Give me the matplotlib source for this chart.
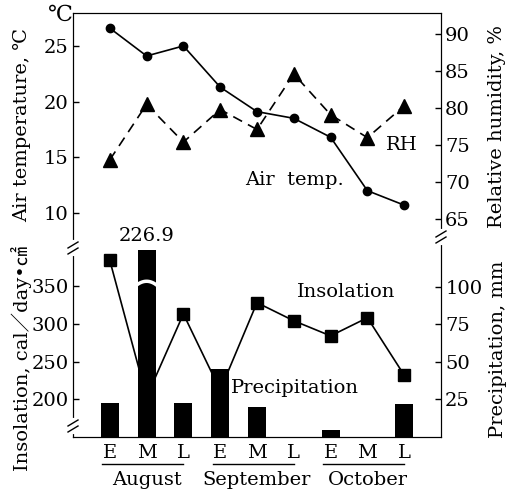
import numpy as np
import matplotlib
matplotlib.use('Agg')
import matplotlib.pyplot as plt
import matplotlib.transforms as mtransforms

plt.rcParams['font.family'] = ['DejaVu Serif', 'Noto Sans CJK JP']
plt.rcParams['font.size'] = 14

# 데이터
periods = ['E', 'M', 'L', 'E', 'M', 'L', 'E', 'M', 'L']
months = ['August', 'September', 'October']
air_temp = [26.6, 24.1, 25.0, 21.3, 19.1, 18.5, 16.8, 12.0, 10.7]
rel_hum = [73.0, 80.5, 75.4, 79.8, 77.1, 84.6, 79.1, 76.0, 80.3]
insolation = [384, 203, 313, 212, 328, 304, 284, 308, 232]
precip = [22.4, 226.9, 22.4, 45.4, 20.0, 0.0, 4.5, 0.0, 21.7]

x = np.arange(len(periods))
precip_top = 124  # 잘린 막대 높이 (축 상한 근처)
fs = 14

fig = plt.figure(figsize=(5.09, 4.93), dpi=100)
L, W = 73 / 509, 368 / 509
ax_up = fig.add_axes([L, 1 - 242 / 493, W, 229 / 493])
ax_lo = fig.add_axes([L, 1 - 437 / 493, W, 195 / 493])
ax_rh = ax_up.twinx()
ax_pr = ax_lo.twinx()

# 위쪽: 기온 / 상대습도
ax_up.plot(x, air_temp, '-o', color='black', lw=1.2, ms=6)
ax_rh.plot(x, rel_hum, '--^', color='black', lw=1.2, ms=10, dashes=(6, 4))
ax_up.set_ylim(7.39, 27.96)
ax_rh.set_ylim(61.9, 92.84)
ax_up.set_yticks([10, 15, 20, 25])
ax_rh.set_yticks([65, 70, 75, 80, 85, 90])

# 아래쪽: 일사량 / 강수량
ax_lo.plot(x, insolation, '-s', color='black', lw=1.2, ms=8)
shown = [min(p, precip_top) for p in precip]
ax_pr.bar(x, shown, width=0.49, color='black')
ax_lo.set_ylim(150.1, 408.3)
ax_pr.set_ylim(0, 129.6)
ax_lo.set_yticks([200, 250, 300, 350])
ax_pr.set_yticks([25, 50, 75, 100])

# 잘린 막대 표시
bi = int(np.argmax(precip))
xs = np.linspace(x[bi] - 0.27, x[bi] + 0.27, 30)
ax_pr.plot(xs, 101 + 2.5 * (1 - ((xs - x[bi]) / 0.27) ** 2), color='white', lw=2.5)
trb = mtransforms.blended_transform_factory(ax_pr.transData, fig.transFigure)
ax_pr.text(x[bi], 1 - 236 / 493, f'{precip[bi]}', transform=trb, ha='center', va='center', fontsize=fs)

for a in (ax_up, ax_lo, ax_rh, ax_pr):
    a.set_xlim(-1, 9)
    a.tick_params(direction='in', length=4, width=1, pad=3, labelsize=fs)
ax_up.set_xticks([])
ax_rh.set_xticks([])
ax_lo.set_xticks(x)
ax_lo.set_xticklabels(periods)
ax_lo.tick_params(axis='x', length=0, pad=5)

for a in (ax_up, ax_rh):
    a.spines['bottom'].set_visible(False)
for a in (ax_lo, ax_pr):
    a.spines['top'].set_visible(False)

# 곡선 라벨
ax_rh.text(7.94, 75.0, 'RH', ha='center', va='center', fontsize=fs)
ax_up.text(5.01, 13.0, 'Air  temp.', ha='center', va='center', fontsize=fs)
ax_lo.text(6.42, 342, 'Insolation', ha='center', va='center', fontsize=fs)
ax_lo.text(5.04, 215, 'Precipitation', ha='center', va='center', fontsize=fs)

# 월 라벨과 밑줄
tr = mtransforms.blended_transform_factory(ax_lo.transData, fig.transFigure)
for i, m in enumerate(months):
    c = 3 * i + 1
    ax_lo.plot([c - 1.2, c + 1.0], [1 - 464 / 493] * 2, color='black', lw=1, transform=tr, clip_on=False)
    ax_lo.text(c, 1 - 480 / 493, m, transform=tr, ha='center', va='center', fontsize=fs)

# 축 끊김 표시
def axis_break(xp, yp):
    xf, yf = xp / 509, 1 - yp / 493
    fig.add_artist(plt.Line2D([xf, xf], [yf - 6 / 493, yf + 6 / 493], color='white', lw=3))
    for d in (-3, 3):
        fig.add_artist(plt.Line2D([xf - 5 / 509, xf + 5 / 509],
                                  [yf + (d - 3) / 493, yf + (d + 3) / 493], color='black', lw=1))

axis_break(73, 248)
axis_break(73, 426)
axis_break(441, 237)

# 축 제목
fig.text(60 / 509, 1 - 15 / 493, '℃', ha='center', va='center', fontsize=16)
fig.text(22 / 509, 1 - 125 / 493, 'Air temperature, ℃', rotation=90, ha='center', va='center', fontsize=fs)
fig.text(497 / 509, 1 - 127 / 493, 'Relative humidity, %', rotation=90, ha='center', va='center', fontsize=fs)
fig.text(22 / 509, 1 - 358 / 493, 'Insolation, cal／day•㎠', rotation=90, ha='center', va='center', fontsize=fs)
fig.text(498 / 509, 1 - 349 / 493, 'Precipitation, mm', rotation=90, ha='center', va='center', fontsize=fs)

fig.savefig('out.png', dpi=100)
